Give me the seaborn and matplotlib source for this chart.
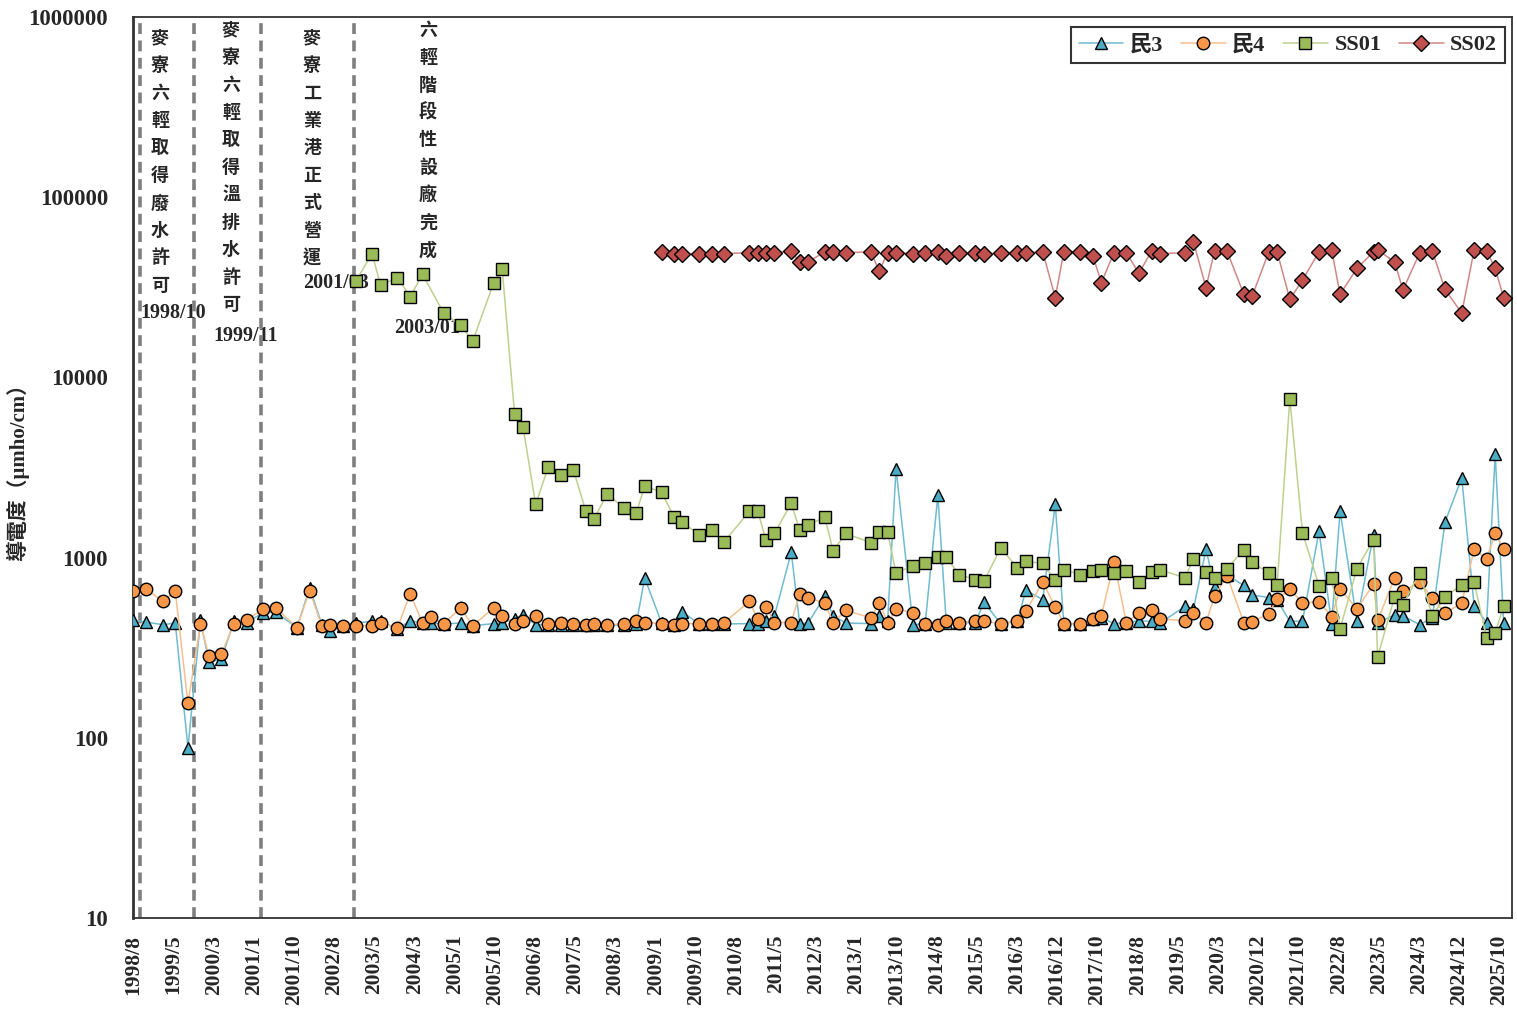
import numpy as np
import pandas as pd
import seaborn as sns
import matplotlib
matplotlib.use("Agg")
from matplotlib import pyplot as plt
import matplotlib.dates as mdates

sns.set_style("white")
plt.rcParams['font.family'] = ['Liberation Serif', 'Noto Sans CJK TC']
plt.rcParams['font.weight'] = 'bold'

# ---- data (conductivity, umho/cm) ----
# 民3 / 民4 before SS02 started
dates_min_early = ['1998-08', '1998-11', '1999-03', '1999-06', '1999-09', '1999-12', '2000-02', '2000-05',
                   '2000-08', '2000-11', '2001-03', '2001-06', '2001-11', '2002-02', '2002-05', '2002-07',
                   '2002-10', '2003-01', '2003-05', '2003-07', '2003-11', '2004-02', '2004-05', '2004-07',
                   '2004-10', '2005-02', '2005-05', '2005-10', '2005-12', '2006-03', '2006-05', '2006-08',
                   '2006-11', '2007-02', '2007-05', '2007-08', '2007-10', '2008-01', '2008-05', '2008-08',
                   '2008-10']
min3_early = [448, 439, 424, 433, 88, 448, 262, 274, 443, 436, 495, 497, 408, 681, 424, 389, 419, 433, 443, 443,
              401, 446, 433, 433, 428, 433, 419, 430, 436, 456, 482, 424, 425, 425, 422, 420, 425, 420, 425, 428,
              771]
min4_early = [650, 672, 571, 650, 155, 430, 283, 293, 430, 448, 521, 527, 408, 656, 415, 424, 415, 419, 419, 436,
              406, 631, 433, 469, 428, 526, 419, 526, 476, 428, 445, 476, 428, 436, 428, 424, 428, 424, 428, 446,
              436]

dates_ss01_early = ['2003-01', '2003-05', '2003-07', '2003-11', '2004-02', '2004-05', '2004-10', '2005-02',
                    '2005-05', '2005-10', '2005-12', '2006-03', '2006-05', '2006-08', '2006-11', '2007-02',
                    '2007-05', '2007-08', '2007-10', '2008-01', '2008-05', '2008-08', '2008-10']
ss01_early = [34100, 48600, 32400, 35800, 28000, 37300, 22800, 19400, 15900, 33600, 39800, 6230, 5320, 1970,
              3190, 2890, 3080, 1810, 1640, 2260, 1890, 1770, 2490]

# all four wells share these dates from 2009 on
dates_late = ['2009-02', '2009-05', '2009-07', '2009-11', '2010-02', '2010-05', '2010-11', '2011-01', '2011-03',
              '2011-05', '2011-09', '2011-11', '2012-01', '2012-05', '2012-07', '2012-10', '2013-04', '2013-06',
              '2013-08', '2013-10', '2014-02', '2014-05', '2014-08', '2014-10', '2015-01', '2015-05', '2015-07',
              '2015-11', '2016-03', '2016-05', '2016-09', '2016-12', '2017-02', '2017-06', '2017-09', '2017-11',
              '2018-02', '2018-05', '2018-08', '2018-11', '2019-01', '2019-07', '2019-09', '2019-12', '2020-02',
              '2020-05', '2020-09', '2020-11', '2021-03', '2021-05', '2021-08', '2021-11', '2022-03', '2022-06',
              '2022-08', '2022-12', '2023-04', '2023-05', '2023-09', '2023-11', '2024-03', '2024-06', '2024-09',
              '2025-01', '2025-04', '2025-07', '2025-09', '2025-11']
min3_late = [433, 424, 500, 428, 428, 428, 430, 430, 446, 472, 1070, 430, 433, 610, 476, 433, 430, 476, 443, 3110,
             424, 430, 2210, 436, 436, 436, 565, 430, 443, 658, 585, 1970, 430, 430, 457, 463, 430, 436, 446, 443,
             433, 536, 519, 1110, 690, 800, 700, 620, 600, 580, 443, 443, 1400, 430, 1810, 446, 1340, 433, 482, 476,
             424, 463, 1570, 2770, 540, 436, 3760, 436]
min4_late = [430, 424, 430, 430, 430, 436, 571, 457, 532, 436, 436, 631, 597, 560, 436, 509, 463, 560, 436, 519,
             493, 430, 424, 443, 436, 443, 443, 430, 443, 505, 730, 532, 430, 430, 457, 476, 940, 436, 493, 509,
             457, 446, 493, 436, 610, 795, 436, 440, 489, 590, 670, 560, 570, 470, 670, 520, 710, 448, 770, 650,
             730, 600, 490, 560, 1110, 985, 1360, 1110]
ss01_late = [2310, 1680, 1570, 1340, 1420, 1220, 1810, 1810, 1250, 1360, 2000, 1420, 1510, 1680, 1090, 1360, 1210,
             1380, 1380, 820, 900, 930, 1010, 1010, 805, 755, 738, 1130, 877, 954, 927, 748, 858, 805, 839, 858,
             822, 839, 729, 829, 858, 771, 984, 829, 771, 866, 1108, 942, 822, 708, 7620, 1372, 699, 771, 402, 866,
             1259, 281, 605, 548, 822, 476, 605, 708, 729, 358, 382, 536]
ss02_late = [49700, 48600, 48600, 48600, 48600, 48600, 49200, 49200, 49200, 49200, 50300, 43400, 43700, 49700,
             49700, 49200, 49700, 38900, 49200, 49200, 48600, 49200, 49700, 46900, 49200, 49200, 48200, 49200,
             49200, 49200, 49700, 27700, 49700, 49700, 46900, 33600, 49200, 49200, 37800, 50300, 48600, 49200,
             56500, 31500, 50300, 50300, 28900, 28300, 49700, 49700, 27100, 34700, 49700, 50900, 28900, 40200,
             49700, 50900, 43700, 30600, 48900, 50300, 30800, 22700, 50900, 50300, 40200, 27700]

tick_labels = ['1998/8', '1999/5', '2000/3', '2001/1', '2001/10', '2002/8', '2003/5', '2004/3', '2005/1',
               '2005/10', '2006/8', '2007/5', '2008/3', '2009/1', '2009/10', '2010/8', '2011/5', '2012/3',
               '2013/1', '2013/10', '2014/8', '2015/5', '2016/3', '2016/12', '2017/10', '2018/8', '2019/5',
               '2020/3', '2020/12', '2021/10', '2022/8', '2023/5', '2024/3', '2024/12', '2025/10']

event_dates = ['1998-10', '1999-11', '2001-03', '2003-01']
event_texts = ['麥寮六輕取得廢水許可', '麥寮六輕取得溫排水許可', '麥寮工業港正式營運', '六輕階段性設廠完成']
event_labels = ['1998/10', '1999/11', '2001/03', '2003/01']


def to_dt(ds):
    return pd.to_datetime(ds) + pd.Timedelta(days=14)


series = [
    ('民3', to_dt(dates_min_early + dates_late), min3_early + min3_late, '^', '#4BACC6', '#6FBBD0'),
    ('民4', to_dt(dates_min_early + dates_late), min4_early + min4_late, 'o', '#F79646', '#F5C08F'),
    ('SS01', to_dt(dates_ss01_early + dates_late), ss01_early + ss01_late, 's', '#9BBB59', '#BDD08E'),
    ('SS02', to_dt(dates_late), ss02_late, 'D', '#C0504D', '#CF8886'),
]

fig = plt.figure(figsize=(15.17, 10.15), dpi=100)
ax = fig.add_axes([0.0877, 0.0956, 0.909, 0.8877])

for name, x, y, mk, fc, lc in series:
    df = pd.DataFrame({'date': x, 'val': y})
    ms = 8 if mk == 'D' else 9
    sns.lineplot(data=df, x='date', y='val', ax=ax, label=name, color=lc, lw=1.1,
                 marker=mk, markersize=ms, markerfacecolor=fc, markeredgecolor='black',
                 markeredgewidth=1.0, estimator=None, sort=False, zorder=3)

ax.set_yscale('log')
ax.set_ylim(10, 1000000)
yt = [10, 100, 1000, 10000, 100000, 1000000]
ax.set_yticks(yt)
ax.set_yticklabels([str(v) for v in yt], fontsize=16.5, fontweight='bold')
ax.yaxis.set_minor_locator(matplotlib.ticker.NullLocator())
ax.tick_params(axis='y', direction='in', length=5, width=1.2, pad=18)

x0 = pd.Timestamp('1998-08-15')
x1 = pd.Timestamp('2025-10-15')
ticks = np.linspace(mdates.date2num(x0), mdates.date2num(x1), len(tick_labels))
ax.set_xticks(ticks)
ax.set_xticklabels(tick_labels, rotation=90, fontsize=15.5, fontweight='bold')
ax.tick_params(axis='x', length=0, pad=12)
ax.set_xlim(pd.Timestamp('1998-08-12'), pd.Timestamp('2026-01-15'))
ax.set_xlabel('')
ax.set_ylabel('導電度（μmho/cm）', fontsize=15, fontweight='bold')
ax.yaxis.set_label_coords(-0.0755, 0.5)

for sp in ax.spines.values():
    sp.set_color('#333333')
    sp.set_linewidth(1.3)
ax.spines['left'].set_linewidth(2)

# event markers
text_x = [0.0196, 0.0711, 0.1298, 0.2139]
text_top = [38, 30, 38, 30]
label_x = [0.029, 0.082, 0.1472, 0.2132]
label_y = [313, 336, 283, 328]
pitch = 27.5 / 901
for i, d in enumerate(event_dates):
    ax.axvline(pd.Timestamp(d), color='#7F7F7F', lw=2.6, ls=(0, (3, 1.8)), zorder=2)
    ty = (918 - text_top[i]) / 901
    for k, ch in enumerate(event_texts[i]):
        ax.text(text_x[i], ty - k * pitch, ch, transform=ax.transAxes, ha='center', va='center',
                fontsize=13, fontweight='bold', family='Noto Sans CJK TC', zorder=1)
    ax.text(label_x[i], (918 - label_y[i]) / 901, event_labels[i], transform=ax.transAxes,
            ha='center', va='center', fontsize=14.5, fontweight='bold', zorder=1)

leg = ax.legend(loc='upper right', bbox_to_anchor=(1 - 7 / 1379, 1 - 10 / 901), ncol=4, frameon=True,
                fancybox=False, edgecolor='black', fontsize=16, handlelength=2.0, columnspacing=0.8,
                handletextpad=0.3, borderpad=0.35, borderaxespad=0)
leg.get_frame().set_linewidth(1.5)

fig.savefig('out.png', dpi=100)
plt.close()
